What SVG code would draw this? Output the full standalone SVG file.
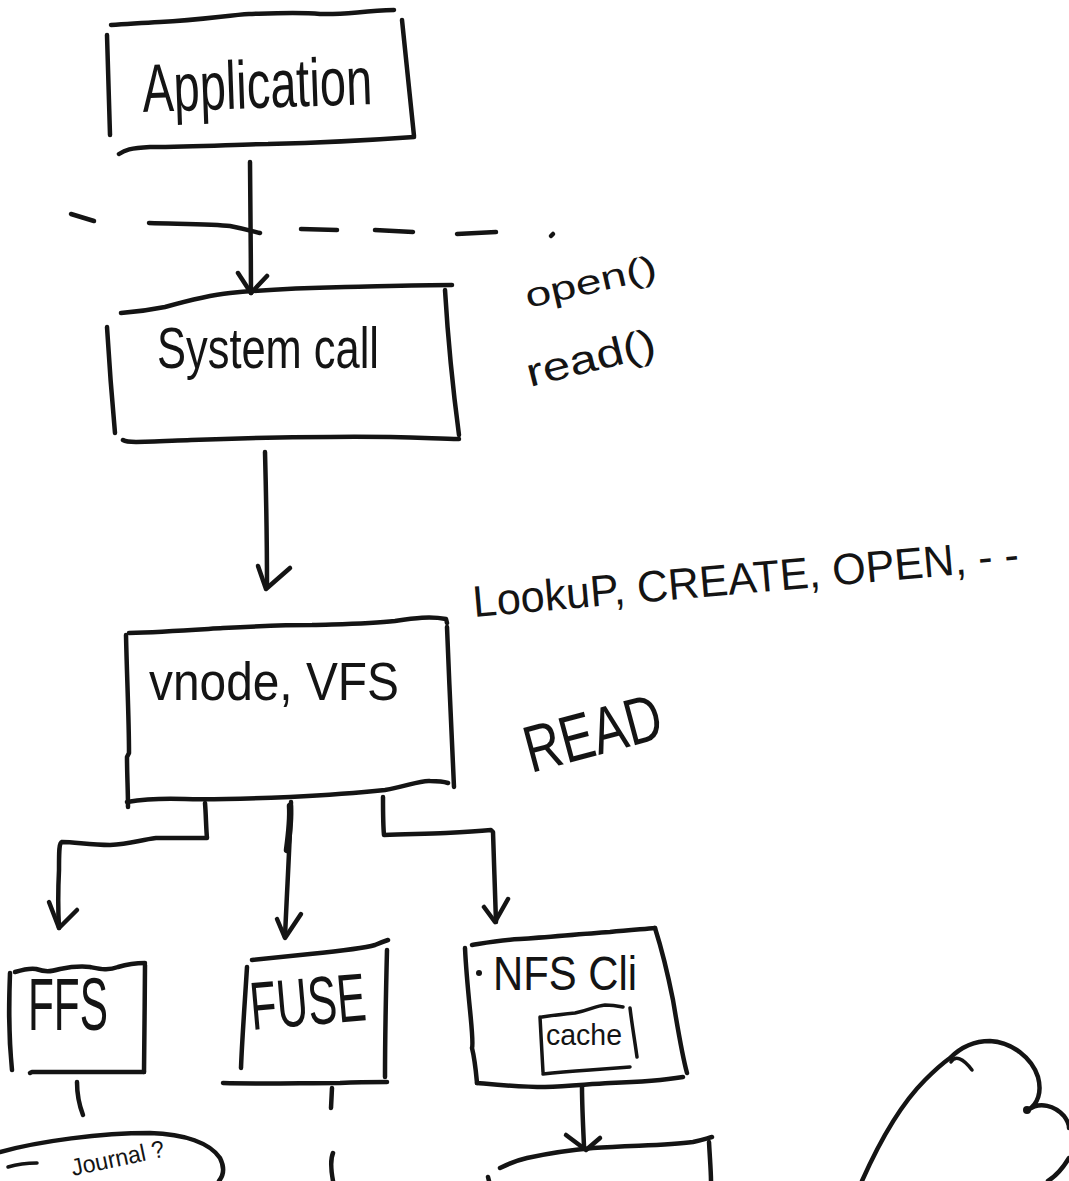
<svg xmlns="http://www.w3.org/2000/svg" width="1069" height="1181" viewBox="0 0 1069 1181">
  <style>
    .ink { fill: none; stroke: #141414; stroke-width: 4.5; stroke-linecap: round; stroke-linejoin: round; }
    .thin { stroke-width: 3.5; }
    .hand { font-family: "Liberation Sans", Arial, sans-serif; fill: #141414; }
  </style>
  <rect width="1069" height="1181" fill="#ffffff"/>

  <!-- user / kernel boundary -->
  <g id="boundary" class="ink">
    <path d="M71,214 L94,221"/>
    <path d="M149,223 C185,224 215,224 230,226 C245,229 252,231 260,233"/>
    <path d="M301,229 L337,230"/>
    <path d="M375,230 L413,232"/>
    <path d="M457,234 L496,232"/>
    <path d="M551,236 L553,234"/>
  </g>

  <!-- nodes -->
  <g id="application">
    <path class="ink" d="M111,25 C130,24 140,23 160,22 C200,20 230,15 249,14 C280,13 300,12 320,14 C345,15 360,11 394,10"/>
    <path class="ink" d="M107,35 C108,70 109,105 110,135"/>
    <path class="ink" d="M402,20 C406,60 410,100 414,136"/>
    <path class="ink" d="M119,154 C125,150 130,148 150,147 C200,147 240,144 268,144 C310,143 345,142 414,137"/>
    <text class="hand" x="143" y="112" font-size="68" textLength="230" lengthAdjust="spacingAndGlyphs" transform="rotate(-2 143 112)">Application</text>
  </g>

  <g id="system-call">
    <path class="ink" d="M121,313 C135,312 150,310 165,307 C190,300 210,295 230,293 C260,290 300,288 345,287 C390,286 420,285 452,285"/>
    <path class="ink" d="M107,327 C109,360 112,400 115,433"/>
    <path class="ink" d="M445,290 C448,340 453,390 459,435"/>
    <path class="ink" d="M123,440 C128,443 140,442 191,440 C240,438 287,437 330,437 C383,436 420,438 459,439"/>
    <text class="hand" x="157" y="368" font-size="58" textLength="222" lengthAdjust="spacingAndGlyphs">System call</text>
  </g>

  <g id="vnode-vfs">
    <path class="ink" d="M129,633 C160,632 190,630 223,628 C260,626 290,625 312,625 C345,624 370,624 395,621 C415,618 430,616 446,619 L447,623"/>
    <path class="ink" d="M126,635 C127,680 129,720 129,753 L127,757 C127,775 128,790 128,807"/>
    <path class="ink" d="M447,627 C449,680 452,740 454,787"/>
    <path class="ink" d="M127,802 C145,799 160,798 185,799 C210,800 240,799 290,797 C330,795 357,793 385,790 C405,787 420,780 430,781 C440,781 445,782 448,783"/>
    <text class="hand" x="149" y="700" font-size="54" textLength="250" lengthAdjust="spacingAndGlyphs">vnode, VFS</text>
  </g>

  <g id="ffs">
    <path class="ink" d="M15,972 C25,969 30,968 36,969 C45,972 50,972 60,969 C70,967 80,966 90,967 C100,969 108,971 118,967 C128,964 135,963 145,963"/>
    <path class="ink" d="M10,973 C9,1000 8,1030 12,1070"/>
    <path class="ink" d="M145,965 C145,1000 144,1040 144,1072"/>
    <path class="ink" d="M30,1073 L32,1072 C70,1072 110,1072 144,1072"/>
    <text class="hand" x="28" y="1030" font-size="74" textLength="80" lengthAdjust="spacingAndGlyphs">FFS</text>
  </g>

  <g id="fuse">
    <path class="ink" d="M252,960 C270,958 290,956 310,954 C340,951 365,948 375,945 C382,942 385,941 388,940"/>
    <path class="ink" d="M247,967 C245,1000 242,1040 241,1068"/>
    <path class="ink" d="M387,950 C386,990 385,1040 385,1077"/>
    <path class="ink" d="M223,1083 C260,1084 300,1083 340,1083 C360,1082 375,1082 387,1082"/>
    <text class="hand" x="252" y="1030" font-size="68" textLength="116" lengthAdjust="spacingAndGlyphs" transform="rotate(-5 252 1030)">FUSE</text>
  </g>

  <g id="nfs-client">
    <path class="ink" d="M472,945 C490,942 500,940 520,939 C550,937 580,934 610,932 C630,930 645,929 655,928"/>
    <path class="ink" d="M465,948 C466,970 468,990 470,1010 C472,1030 473,1045 472,1048 C475,1060 476,1072 477,1083"/>
    <circle cx="479" cy="973" r="3" fill="#141414"/>
    <path class="ink" d="M655,928 C662,950 668,975 673,1000 C678,1030 682,1055 687,1073"/>
    <path class="ink" d="M477,1083 C500,1085 520,1087 545,1087 C570,1086 590,1084 610,1083 C640,1082 665,1080 683,1077"/>
    <text class="hand" x="493" y="990" font-size="48" textLength="144" lengthAdjust="spacingAndGlyphs">NFS Cli</text>
    <g id="nfs-cache">
      <path class="ink thin" d="M542,1017 C555,1015 565,1014 575,1013 C590,1010 595,1006 605,1005 C612,1005 618,1006 623,1007"/>
      <path class="ink thin" d="M540,1017 C541,1035 542,1055 543,1072"/>
      <path class="ink thin" d="M630,1008 C632,1025 635,1042 637,1057"/>
      <path class="ink thin" d="M543,1074 C560,1072 575,1071 590,1070 C605,1069 618,1068 630,1067"/>
      <text class="hand" x="546" y="1045" font-size="30" textLength="76" lengthAdjust="spacingAndGlyphs">cache</text>
    </g>
  </g>

  <g id="journal">
    <path class="ink" d="M0,1152 C40,1141 100,1133 150,1133 C185,1134 210,1143 220,1158 C225,1168 223,1176 219,1181"/>
    <path class="ink thin" d="M8,1167 C18,1164 28,1163 37,1163"/>
    <text class="hand" x="73" y="1176" font-size="24" textLength="95" lengthAdjust="spacingAndGlyphs" transform="rotate(-12 73 1176)">Journal ?</text>
  </g>

  <g id="nfs-server">
    <path class="ink" d="M500,1168 C510,1163 518,1160 527,1158 C550,1153 570,1150 593,1148 C630,1145 665,1146 693,1142 C702,1140 708,1138 712,1137"/>
    <path class="ink" d="M709,1142 C710,1160 711,1172 711,1181"/>
    <path class="ink" d="M488,1177 L489,1181"/>
  </g>

  <g id="cloud">
    <path class="ink" d="M862,1181 C878,1145 900,1105 925,1080 C935,1070 943,1063 950,1058 C962,1046 975,1041 990,1041 C1012,1042 1032,1058 1038,1077 C1042,1092 1038,1104 1028,1110 C1040,1101 1055,1106 1064,1116 C1067,1120 1069,1125 1069,1128"/>
    <path class="ink thin" d="M951,1062 C955,1055 963,1058 972,1070"/>
    <circle cx="1027" cy="1110" r="4" fill="#141414"/>
    <path class="ink" d="M1069,1158 C1063,1168 1056,1176 1048,1181"/>
  </g>

  <!-- connectors -->
  <g id="connectors" class="ink">
    <!-- Application to System call -->
    <path d="M250,162 C250,210 251,250 251,293"/>
    <path d="M238,273 L251,293 L267,276"/>
    <!-- System call to vnode -->
    <path d="M265,452 C266,490 267,530 267,587"/>
    <path d="M258,566 L266,589 L290,568"/>
    <!-- vnode to FFS -->
    <path d="M205,803 C206,815 206,828 207,838 C190,838 170,838 156,838 C140,840 130,844 110,845 C90,845 75,842 62,842 C59,843 59,850 59,870 C58,890 58,910 59,928"/>
    <path d="M49,902 L59,928 L77,910"/>
    <!-- vnode to FUSE -->
    <path d="M291,802 C290,840 287,890 285,937"/>
    <path d="M290,806 C291,820 289,835 287,850" stroke-width="6.5"/>
    <path d="M277,919 L285,938 L301,914"/>
    <!-- vnode to NFS client -->
    <path d="M383,797 C383,810 383,825 384,835 C405,834 425,834 446,833 C465,832 480,831 491,830 L493,832 C494,860 495,895 496,922"/>
    <path d="M484,907 L495,922 L508,899"/>
    <!-- NFS client to server -->
    <path d="M582,1087 C582,1105 583,1125 584,1146"/>
    <path d="M566,1135 L586,1150 L600,1138"/>
    <!-- stubs below FFS and FUSE -->
    <path d="M77,1082 C77,1092 78,1102 83,1115"/>
    <path d="M332,1088 L331,1108"/>
    <path d="M333,1153 C330,1160 331,1170 333,1181"/>
  </g>

  <!-- annotations -->
  <g id="labels">
    <text class="hand" x="528" y="308" font-size="34" textLength="134" lengthAdjust="spacingAndGlyphs" transform="rotate(-13 528 308)">open()</text>
    <text class="hand" x="530" y="387" font-size="40" textLength="132" lengthAdjust="spacingAndGlyphs" transform="rotate(-14 530 387)">read()</text>
    <text class="hand" x="474" y="617" font-size="44" textLength="548" lengthAdjust="spacingAndGlyphs" transform="rotate(-5 474 617)">LookuP, CREATE, OPEN, - -</text>
    <text class="hand" x="531" y="773" font-size="66" textLength="140" lengthAdjust="spacingAndGlyphs" transform="rotate(-15 531 773)">READ</text>
  </g>
</svg>
